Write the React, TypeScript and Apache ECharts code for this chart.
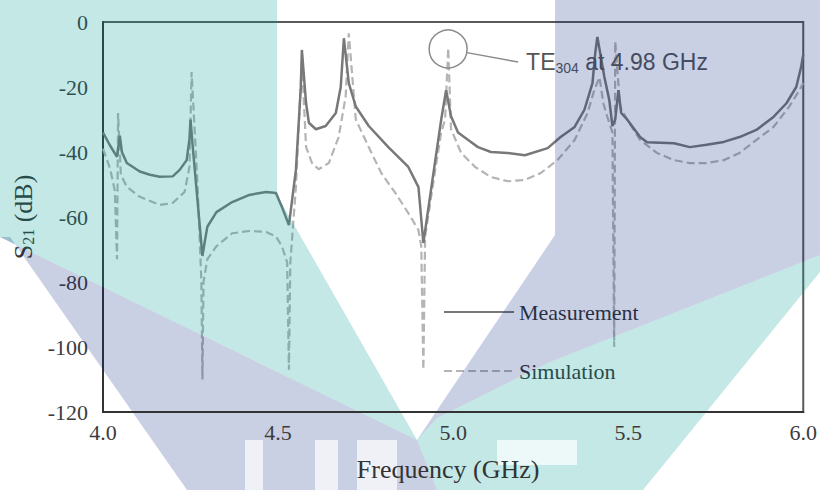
import React, { useEffect, useRef } from "react";
import * as echarts from "echarts";

// ---- data (frequency GHz, S21 dB) ----
const xTicks = [4.0, 4.5, 5.0, 5.5, 6.0];
const yTicks = [-120, -100, -80, -60, -40, -20, 0];
const seriesNames = ["Measurement", "Simulation"];

const measurement: [number, number][] = [
  [4.0, -34], [4.02, -38], [4.04, -41.5], [4.048, -35], [4.054, -40], [4.068, -43.4],
  [4.105, -46], [4.134, -47], [4.162, -47.6], [4.199, -47.5], [4.219, -45.5], [4.239, -42.5],
  [4.247, -36], [4.25, -30], [4.256, -38], [4.27, -55], [4.284, -72], [4.29, -68],
  [4.298, -63], [4.324, -58.5], [4.369, -55.4], [4.418, -53.2], [4.466, -52.3], [4.494, -52.6],
  [4.511, -56.9], [4.531, -62.5], [4.551, -45.5], [4.565, -20], [4.568, -8.6], [4.58, -25],
  [4.588, -31], [4.608, -33], [4.636, -32], [4.665, -28], [4.679, -20], [4.688, -5],
  [4.702, -18.8], [4.722, -26], [4.759, -32], [4.815, -38.5], [4.872, -44.6], [4.901, -50.8],
  [4.915, -68], [4.938, -50.8], [4.966, -30], [4.98, -21], [4.994, -29], [5.014, -34],
  [5.043, -36.3], [5.071, -38.5], [5.108, -40], [5.156, -40.3], [5.205, -41], [5.27, -38.8],
  [5.307, -35.4], [5.347, -32.3], [5.375, -27], [5.398, -18.8], [5.406, -9.5], [5.412, -4.6],
  [5.432, -16.9], [5.446, -24], [5.455, -32], [5.463, -30], [5.472, -21], [5.48, -28],
  [5.497, -30], [5.534, -35.4], [5.554, -37], [5.631, -37.3], [5.676, -38.5], [5.724, -37.8],
  [5.773, -36.9], [5.818, -35.4], [5.866, -33.2], [5.915, -29.2], [5.952, -25], [5.98, -20],
  [5.994, -13.8], [6.0, -10],
];

const simulation: [number, number][] = [
  [4.0, -39], [4.02, -45], [4.034, -52], [4.04, -73], [4.043, -28], [4.051, -47],
  [4.068, -50.7], [4.105, -53.8], [4.162, -56.3], [4.199, -55.7], [4.233, -52.3], [4.247, -44.6],
  [4.253, -15.4], [4.27, -50], [4.281, -80], [4.284, -110], [4.287, -80], [4.298, -73],
  [4.324, -69], [4.369, -65], [4.418, -64.3], [4.466, -64.6], [4.494, -66], [4.511, -69],
  [4.526, -74], [4.531, -107], [4.535, -74], [4.551, -50.8], [4.56, -30], [4.568, -12],
  [4.58, -38.5], [4.597, -43.4], [4.616, -45.3], [4.645, -43.4], [4.673, -35.4], [4.693, -23],
  [4.702, -3.5], [4.722, -30], [4.759, -38.5], [4.795, -46.5], [4.835, -52.6], [4.872, -58.8],
  [4.901, -64], [4.909, -69], [4.915, -107], [4.92, -66], [4.949, -45.5], [4.966, -34],
  [4.977, -30], [4.986, -8], [4.994, -33], [5.023, -40.3], [5.063, -44.6], [5.108, -47.7],
  [5.156, -49], [5.205, -48.6], [5.25, -46.5], [5.298, -42.5], [5.347, -36.3], [5.384, -28],
  [5.403, -21], [5.418, -17], [5.429, -25], [5.44, -29], [5.455, -34], [5.46, -100],
  [5.463, -6], [5.477, -26], [5.497, -30], [5.534, -36.3], [5.582, -40.3], [5.631, -42.5],
  [5.676, -43.4], [5.724, -43.4], [5.773, -42.5], [5.818, -40.3], [5.866, -36.3], [5.915, -32.3],
  [5.96, -26], [5.989, -21], [6.0, -18.8],
];

const annotationPoint: [number, number] = [4.98, -8];
const annotationMode = "304";
const annotationText = " at 4.98 GHz";

// ---- watermark shapes (page pixels) ----
const tealShapes: number[][][] = [
  [[0, 0], [277, 0], [277, 195], [417, 440], [0, 237]],
  [[820, 255], [820, 272], [643, 490], [437, 490], [417, 440], [437, 418], [550, 362]],
];
const purpleShapes: number[][][] = [
  [[0, 237], [417, 440], [437, 490], [187, 490], [10, 237]],
  [[555, 0], [820, 0], [820, 255], [550, 362], [437, 418], [417, 440], [555, 235]],
];
const letterBlocks: number[][] = [
  [245, 440, 18, 50], [315, 440, 23, 50], [357, 440, 40, 50], [497, 440, 80, 25],
];

export default function App() {
  const ref = useRef<HTMLDivElement>(null);

  useEffect(() => {
    document.body.style.margin = "0";
    const chart = echarts.init(ref.current!, null, { renderer: "svg" });
    const serif = "'Liberation Serif', 'Times New Roman', serif";
    const sans = "'Liberation Sans', Arial, sans-serif";

    chart.setOption({
      animation: false,
      backgroundColor: "#ffffff",
      grid: {
        left: 103, right: 13, top: 22, bottom: 78,
        show: true, borderColor: "#5a5a5a", borderWidth: 2,
      },
      xAxis: {
        type: "value", min: xTicks[0], max: xTicks[xTicks.length - 1],
        interval: xTicks[1] - xTicks[0], z: 150,
        name: "Frequency (GHz)", nameLocation: "middle", nameGap: 44,
        nameTextStyle: { fontFamily: serif, fontSize: 26, color: "#333", padding: [0, 10, 0, 0] },
        axisLine: { show: true, onZero: false, lineStyle: { color: "#333", width: 2 } },
        axisTick: { show: false }, splitLine: { show: false },
        axisLabel: {
          formatter: (v: number) => v.toFixed(1),
          fontFamily: serif, fontSize: 22, color: "#3c3c3c", margin: 9,
        },
      },
      yAxis: {
        type: "value", min: yTicks[0], max: yTicks[yTicks.length - 1],
        interval: yTicks[1] - yTicks[0],
        name: "S{sub|21} (dB)", nameLocation: "middle", nameGap: 62,
        nameTextStyle: {
          fontFamily: serif, fontSize: 26, color: "#333",
          rich: { sub: { fontFamily: serif, fontSize: 16, color: "#333", verticalAlign: "bottom", lineHeight: 16 } },
        },
        axisLine: { show: true, onZero: false, lineStyle: { color: "#333", width: 2 } },
        axisTick: { show: false }, splitLine: { show: false },
        axisLabel: { fontFamily: serif, fontSize: 22, color: "#3c3c3c", margin: 15 },
      },
      legend: {
        data: seriesNames, orient: "vertical", left: 438, top: 296,
        itemWidth: 70, itemHeight: 14, itemGap: 37,
        itemStyle: { opacity: 0, borderWidth: 0 },
        textStyle: { fontFamily: serif, fontSize: 22, color: "#333" },
      },
      series: [
        {
          name: seriesNames[0], type: "line", data: measurement, symbol: "none", z: 3,
          lineStyle: { color: "#787878", width: 2.5 }, itemStyle: { color: "#787878" },
        },
        {
          name: seriesNames[1], type: "line", data: simulation, symbol: "none", z: 2,
          lineStyle: { color: "#b4b4b4", width: 2.2, type: [8, 4] }, itemStyle: { color: "#b4b4b4" },
        },
      ],
    });

    const c = chart.convertToPixel({ gridIndex: 0 }, annotationPoint) as number[];
    const r = 19;
    const end = [c[0] + 72, c[1] + 14];
    const dx = end[0] - c[0], dy = end[1] - c[1];
    const len = Math.sqrt(dx * dx + dy * dy);

    const graphics: any[] = [
      { type: "circle", silent: true, z: 50, shape: { cx: c[0] + 2, cy: c[1] + 1, r }, style: { fill: "none", stroke: "#8a8a8a", lineWidth: 1.5 } },
      { type: "line", silent: true, z: 50, shape: { x1: c[0] + 2 + (dx / len) * r, y1: c[1] + 1 + (dy / len) * r, x2: end[0], y2: end[1] }, style: { stroke: "#8a8a8a", lineWidth: 1.5 } },
      {
        type: "text", silent: true, z: 50, x: end[0] + 8, y: end[1],
        style: {
          text: "TE{sub|" + annotationMode + "}" + annotationText,
          font: "23px " + sans, fill: "#555", verticalAlign: "middle", lineHeight: 26,
          rich: { sub: { font: "14px " + sans, fill: "#555", verticalAlign: "bottom", lineHeight: 14 } },
        },
      },
    ];
    tealShapes.forEach((pts) =>
      graphics.push({ type: "polygon", silent: true, z: 100, shape: { points: pts }, style: { fill: "rgba(0,155,146,0.23)" } })
    );
    purpleShapes.forEach((pts) =>
      graphics.push({ type: "polygon", silent: true, z: 100, shape: { points: pts }, style: { fill: "rgba(14,41,132,0.22)" } })
    );
    letterBlocks.forEach((b) =>
      graphics.push({ type: "rect", silent: true, z: 101, shape: { x: b[0], y: b[1], width: b[2], height: b[3] }, style: { fill: "rgba(255,255,255,0.7)" } })
    );
    chart.setOption({ graphic: graphics });

    return () => chart.dispose();
  }, []);

  return <div ref={ref} style={{ width: 820, height: 490 }} />;
}
